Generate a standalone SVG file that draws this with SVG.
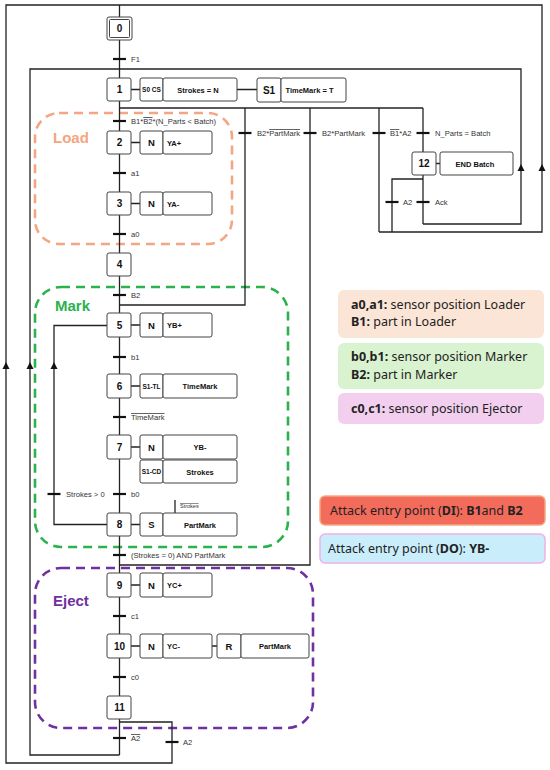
<svg xmlns="http://www.w3.org/2000/svg" width="550" height="770" viewBox="0 0 550 770">
<style>
.ln{fill:none;stroke:#222;stroke-width:1.3}
.bar{stroke:#111;stroke-width:2.2}
.st{fill:#fff;stroke:#444;stroke-width:1}
.act{fill:#fff;stroke:#444;stroke-width:1}
.sn{font-family:"Liberation Sans",Arial,sans-serif;font-weight:bold;font-size:10px;fill:#111;text-anchor:middle}
.q{font-family:"Liberation Sans",Arial,sans-serif;font-weight:bold;font-size:9.5px;fill:#111;text-anchor:middle}
.qs{font-family:"Liberation Sans",Arial,sans-serif;font-weight:bold;font-size:6.5px;fill:#111;text-anchor:middle}
.a{font-family:"Liberation Sans",Arial,sans-serif;font-weight:bold;font-size:7.5px;fill:#111}
.ac{font-family:"Liberation Sans",Arial,sans-serif;font-weight:bold;font-size:7.5px;fill:#111;text-anchor:middle}
.t{font-family:"Liberation Sans",Arial,sans-serif;font-size:7.6px;fill:#333}
.ov{text-decoration:overline}
.grp{fill:none;stroke-width:2.6;stroke-dasharray:9 6}
.lg{font-family:"Noto Sans","Open Sans",sans-serif;font-size:12.5px;fill:#222}
.b{font-weight:bold}
</style>
<defs>
<path id="up" d="M0 0 L3.5 7 L-3.5 7 Z" fill="#111"/>
</defs>

<g id="groups">
<rect x="35" y="113" width="197" height="131" rx="24" class="grp" stroke="#f4a582"/>
<text x="53" y="143" font-family="Liberation Sans,Arial,sans-serif" font-weight="bold" font-size="15" fill="#f4a582">Load</text>
<rect x="35" y="287" width="253" height="260" rx="26" class="grp" stroke="#2bb24c"/>
<text x="55" y="311" font-family="Liberation Sans,Arial,sans-serif" font-weight="bold" font-size="15" fill="#2bb24c">Mark</text>
<rect x="35" y="568" width="278" height="160" rx="26" class="grp" stroke="#7030a0"/>
<text x="53" y="606" font-family="Liberation Sans,Arial,sans-serif" font-weight="bold" font-size="15" fill="#7030a0">Eject</text>
</g>

<g id="connectors">
<path class="ln" d="M119.5 5 V755"/>
<path class="ln" d="M119.5 722 H172 V763 H6 V5 H542 V232 H379"/>
<path class="ln" d="M119.5 755 H30 V69 H521 V224 H423"/>
<path class="ln" d="M119.5 108 H423"/>
<path class="ln" d="M245 108 V305 H119.5"/>
<path class="ln" d="M310 108 V565 H119.5"/>
<path class="ln" d="M379 108 V232"/>
<path class="ln" d="M423 108 V224"/>
<path class="ln" d="M423 179 H392 V232"/>
<path class="ln" d="M107 524.5 H54 V325.5 H107"/>
<path class="ln" d="M131 89.5 H140 M237 89.5 H257 M131 142.5 H140 M131 203.5 H140 M131 325 H140 M131 386 H140 M131 447 H140 M131 524.5 H140 M131 585 H140 M131 646 H140 M212 646 H217 M436 163.5 H440"/>
<path class="ln" d="M175 500 V513" stroke-width="1"/>
<use href="#up" x="6" y="362"/>
<use href="#up" x="30" y="362"/>
<use href="#up" x="54" y="362"/>
<use href="#up" x="521" y="164"/>
<use href="#up" x="542" y="164"/>
<g class="bar">
<line x1="113" y1="59" x2="126" y2="59"/>
<line x1="113" y1="121" x2="126" y2="121"/>
<line x1="113" y1="173" x2="126" y2="173"/>
<line x1="113" y1="234" x2="126" y2="234"/>
<line x1="113" y1="295" x2="126" y2="295"/>
<line x1="113" y1="357" x2="126" y2="357"/>
<line x1="113" y1="417" x2="126" y2="417"/>
<line x1="113" y1="494" x2="126" y2="494"/>
<line x1="113" y1="555" x2="126" y2="555"/>
<line x1="113" y1="616" x2="126" y2="616"/>
<line x1="113" y1="677" x2="126" y2="677"/>
<line x1="113" y1="738" x2="126" y2="738"/>
<line x1="47.5" y1="494" x2="60.5" y2="494"/>
<line x1="165.5" y1="742" x2="178.5" y2="742"/>
<line x1="238.5" y1="133" x2="251.5" y2="133"/>
<line x1="303.5" y1="133" x2="316.5" y2="133"/>
<line x1="372.5" y1="133" x2="385.5" y2="133"/>
<line x1="416.5" y1="133" x2="429.5" y2="133"/>
<line x1="385.5" y1="202" x2="398.5" y2="202"/>
<line x1="416.5" y1="202" x2="429.5" y2="202"/>
</g>
<text class="t" x="131" y="62">F1</text>
<text class="t" x="131" y="124">B1*<tspan class="ov">B2</tspan>*(N_Parts &lt; Batch)</text>
<text class="t" x="131" y="176">a1</text>
<text class="t" x="131" y="237">a0</text>
<text class="t" x="131" y="298">B2</text>
<text class="t" x="131" y="360">b1</text>
<text class="t" x="131" y="420"><tspan class="ov">TimeMark</tspan></text>
<text class="t" x="131" y="497">b0</text>
<text class="t" x="66" y="497">Strokes &gt; 0</text>
<text class="t" x="131" y="558">(Strokes = 0) AND PartMark</text>
<text class="t" x="131" y="619">c1</text>
<text class="t" x="131" y="680">c0</text>
<text class="t" x="131" y="741"><tspan class="ov">A2</tspan></text>
<text class="t" x="183" y="745">A2</text>
<text class="t" x="257" y="136">B2*<tspan class="ov">PartMark</tspan></text>
<text class="t" x="322" y="136">B2*PartMark</text>
<text class="t" x="390" y="136"><tspan class="ov">B1</tspan>*A2</text>
<text class="t" x="435" y="136">N_Parts = Batch</text>
<text class="t" x="403" y="205">A2</text>
<text class="t" x="435" y="205">Ack</text>
<text x="180" y="508" font-family="Liberation Sans,Arial,sans-serif" font-size="5.5" fill="#333"><tspan class="ov">Strokes</tspan></text>
</g>

<g id="step0"><rect class="st" x="107" y="17" width="25" height="23" rx="2"/><rect class="st" x="109.5" y="19.5" width="20" height="18" rx="1"/><text class="sn" x="119.5" y="32">0</text></g>
<g id="step1"><rect class="st" x="107" y="78" width="24" height="23" rx="2"/><text class="sn" x="119.5" y="93">1</text></g>
<g id="step2"><rect class="st" x="107" y="131" width="24" height="23" rx="2"/><text class="sn" x="119.5" y="146">2</text></g>
<g id="step3"><rect class="st" x="107" y="192" width="24" height="23" rx="2"/><text class="sn" x="119.5" y="207">3</text></g>
<g id="step4"><rect class="st" x="107" y="253" width="24" height="23" rx="2"/><text class="sn" x="119.5" y="268">4</text></g>
<g id="step5"><rect class="st" x="107" y="313" width="24" height="24" rx="2"/><text class="sn" x="119.5" y="328.5">5</text></g>
<g id="step6"><rect class="st" x="107" y="374" width="24" height="24" rx="2"/><text class="sn" x="119.5" y="389.5">6</text></g>
<g id="step7"><rect class="st" x="107" y="435" width="24" height="24" rx="2"/><text class="sn" x="119.5" y="450.5">7</text></g>
<g id="step8"><rect class="st" x="107" y="513" width="24" height="23" rx="2"/><text class="sn" x="119.5" y="528">8</text></g>
<g id="step9"><rect class="st" x="107" y="573" width="24" height="24" rx="2"/><text class="sn" x="119.5" y="588.5">9</text></g>
<g id="step10"><rect class="st" x="107" y="634" width="24" height="24" rx="2"/><text class="sn" x="119.5" y="649.5">10</text></g>
<g id="step11"><rect class="st" x="107" y="696" width="24" height="23" rx="2"/><text class="sn" x="119.5" y="711">11</text></g>
<g id="step12"><rect class="st" x="412" y="152" width="24" height="23" rx="2"/><text class="sn" x="424" y="167">12</text></g>

<g id="act1">
<rect class="act" x="140" y="78" width="23" height="23" rx="2"/><text class="qs" x="151.5" y="92">S0 CS</text>
<rect class="act" x="163" y="78" width="74" height="23" rx="2"/><text class="ac" x="198" y="92.5">Strokes = N</text>
<rect class="act" x="257" y="78" width="24" height="24" rx="2"/><text class="sn" x="269" y="93.5">S1</text>
<rect class="act" x="281" y="78" width="65" height="24" rx="2"/><text class="a" x="285.5" y="92.5" font-size="7">TimeMark = T</text>
</g>
<g id="act2"><rect class="act" x="140" y="131" width="23" height="23" rx="2"/><text class="q" x="151.5" y="146">N</text><rect class="act" x="163" y="131" width="49" height="23" rx="2"/><text class="a" x="167" y="145.5">YA+</text></g>
<g id="act3"><rect class="act" x="140" y="192" width="23" height="23" rx="2"/><text class="q" x="151.5" y="207">N</text><rect class="act" x="163" y="192" width="49" height="23" rx="2"/><text class="a" x="167" y="206.5">YA-</text></g>
<g id="act5"><rect class="act" x="140" y="313" width="23" height="24" rx="2"/><text class="q" x="151.5" y="328.5">N</text><rect class="act" x="163" y="313" width="49" height="24" rx="2"/><text class="a" x="167" y="328">YB+</text></g>
<g id="act6"><rect class="act" x="140" y="374" width="23" height="24" rx="2"/><text class="qs" x="151.5" y="388.5">S1-TL</text><rect class="act" x="163" y="374" width="74" height="24" rx="2"/><text class="ac" x="200" y="389">TimeMark</text></g>
<g id="act7">
<rect class="act" x="140" y="435" width="23" height="24" rx="2"/><text class="q" x="151.5" y="450.5">N</text>
<rect class="act" x="163" y="435" width="74" height="24" rx="2"/><text class="ac" x="200" y="450">YB-</text>
<rect class="act" x="140" y="460" width="23" height="23" rx="2"/><text class="qs" x="151.5" y="474">S1-CD</text>
<rect class="act" x="163" y="460" width="74" height="23" rx="2"/><text class="ac" x="200" y="474.5">Strokes</text>
</g>
<g id="act8"><rect class="act" x="140" y="513" width="23" height="23" rx="2"/><text class="q" x="151.5" y="528">S</text><rect class="act" x="163" y="513" width="74" height="23" rx="2"/><text class="ac" x="200" y="527.5">PartMark</text></g>
<g id="act9"><rect class="act" x="140" y="573" width="23" height="24" rx="2"/><text class="q" x="151.5" y="588.5">N</text><rect class="act" x="163" y="573" width="49" height="24" rx="2"/><text class="a" x="167" y="588">YC+</text></g>
<g id="act10">
<rect class="act" x="140" y="634" width="23" height="24" rx="2"/><text class="q" x="151.5" y="649.5">N</text>
<rect class="act" x="163" y="634" width="49" height="24" rx="2"/><text class="a" x="167" y="649">YC-</text>
<rect class="act" x="217" y="634" width="24" height="24" rx="2"/><text class="q" x="229" y="649.5">R</text>
<rect class="act" x="241" y="634" width="68" height="24" rx="2"/><text class="ac" x="275" y="649">PartMark</text>
</g>
<g id="act12"><rect class="act" x="440" y="152" width="73" height="23" rx="2"/><text class="ac" x="475" y="166.5" font-size="8">END Batch</text></g>

<g id="legend">
<rect x="338" y="290" width="206" height="48" rx="6" fill="#fbe5d6"/>
<text class="lg" x="351" y="308.5"><tspan class="b">a0,a1:</tspan> sensor position Loader</text>
<text class="lg" x="351" y="326"><tspan class="b">B1:</tspan> part in Loader</text>
<rect x="338" y="343" width="206" height="46" rx="6" fill="#d9f2d0"/>
<text class="lg" x="351" y="361"><tspan class="b">b0,b1:</tspan> sensor position Marker</text>
<text class="lg" x="351" y="378.5"><tspan class="b">B2:</tspan> part in Marker</text>
<rect x="338" y="393" width="206" height="31" rx="6" fill="#f2cfee"/>
<text class="lg" x="351" y="413"><tspan class="b">c0,c1:</tspan> sensor position Ejector</text>
</g>
<g id="attack">
<rect x="320" y="496" width="225" height="29" rx="5" fill="#f26b5b" stroke="#f6a882" stroke-width="1.5"/>
<text class="lg" x="330" y="515" font-size="13.2">Attack entry point (<tspan class="b">DI</tspan>): <tspan class="b">B1</tspan>and <tspan class="b">B2</tspan></text>
<rect x="320" y="534" width="225" height="29" rx="5" fill="#caedfb" stroke="#f0b0e8" stroke-width="1.5"/>
<text class="lg" x="328" y="553" font-size="13.2">Attack entry point (<tspan class="b">DO</tspan>): <tspan class="b">YB-</tspan></text>
</g>
</svg>
